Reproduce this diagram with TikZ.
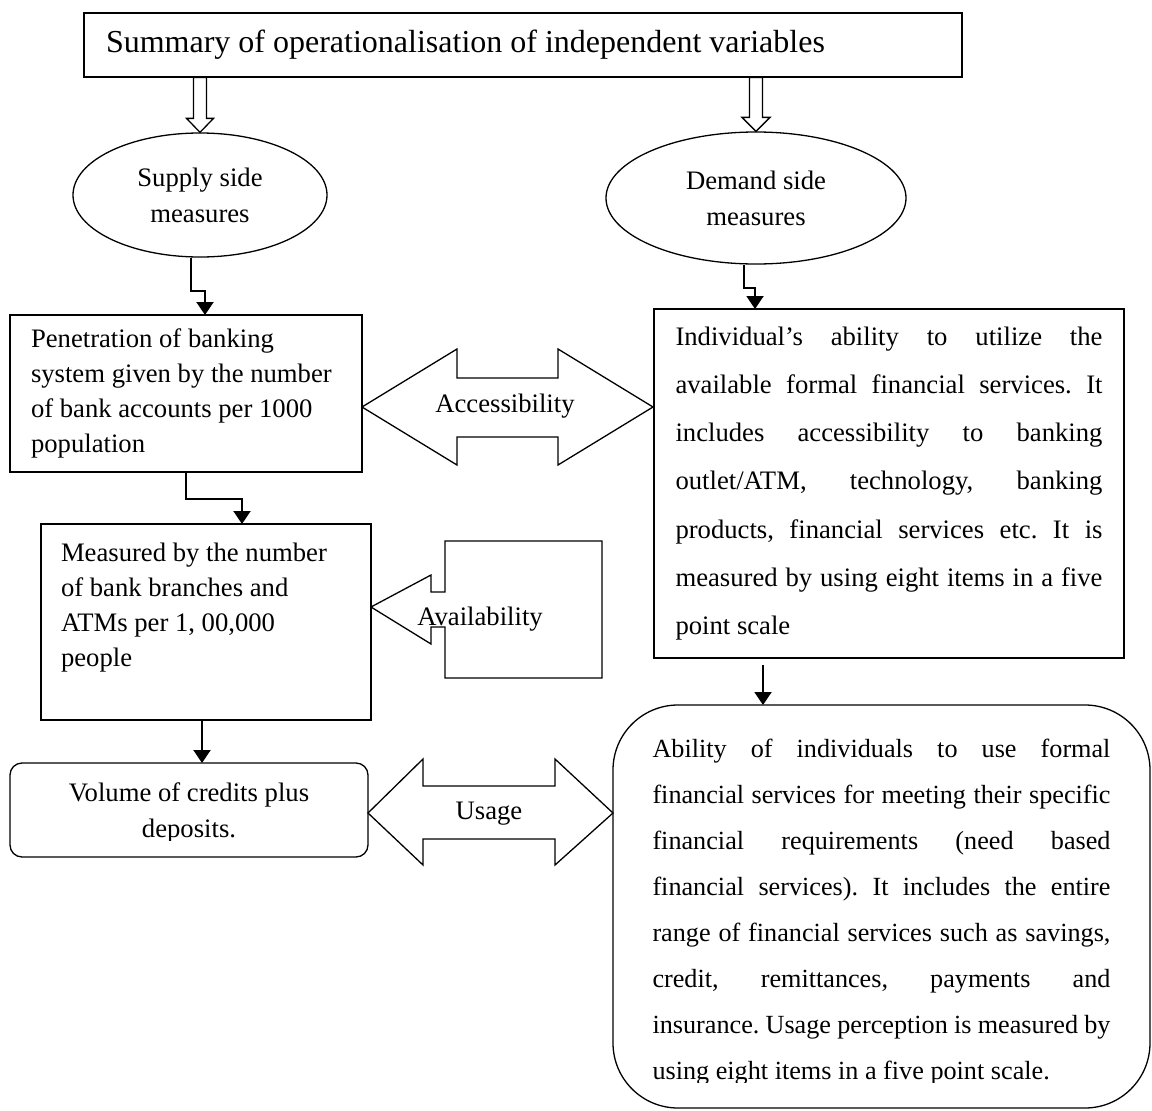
\documentclass[tikz,border=0pt]{standalone}
\usepackage{fontspec}
\setmainfont{Liberation Serif}
\usetikzlibrary{arrows.meta}
\usetikzlibrary{calc}
\usetikzlibrary{shapes.geometric}

\begin{document}
\begin{tikzpicture}[
    x=1pt, y=-1pt,
    box/.style={draw, line width=1.3pt, inner sep=0pt, outer sep=0pt},
    oval/.style={draw, ellipse, line width=1.3pt, inner sep=0pt, align=center,
      font={\fontsize{26.67}{36}\selectfont}},
    plain words/.style={execute at begin node={\spaceskip=0pt\xspaceskip=0pt\relax}},
    shape line/.style={draw, line width=1.3pt, fill=white, line join=miter},
    link/.style={line width=2pt, line join=miter, -{Triangle[length=13pt,width=17pt]}},
    label text/.style={font={\fontsize{26.67}{32}\selectfont}},
    every node/.style={color=black}
    ]
    \useasboundingbox (0,0) rectangle (1152,1111);

    % title
    \node[box, plain words, minimum width=878pt, minimum height=64pt, text width=834pt, align=left,
      font={\fontsize{32}{38}\selectfont}] (title) at (523,45)
      {Summary of operationalisation of independent variables};

    % supply and demand side
    \node[oval, minimum width=254pt, minimum height=124pt] (supply) at (200,195) {Supply side\\measures};
    \node[oval, minimum width=300pt, minimum height=132pt] (demand) at (756,198) {Demand side\\measures};

    % hollow arrows from the title
    \draw[shape line] (supply.north) -- ++(-13.5,-14) -- ++(7,0) -- ++(0,-41) -- ++(13,0) -- ++(0,41) -- ++(7,0) -- cycle;
    \draw[shape line] (demand.north) -- ++(-14,-14) -- ++(7.5,0) -- ++(0,-40) -- ++(13,0) -- ++(0,40) -- ++(7.5,0) -- cycle;

    % left column
    \node[box, plain words, anchor=north west, minimum width=352pt, minimum height=157pt, text width=310pt, align=left,
      font={\fontsize{26.67}{35}\selectfont}] (pen) at (10,315)
      {Penetration of banking\\system given by the number\\of bank accounts per 1000\\population};
    \node[box, plain words, anchor=north west, minimum width=330pt, minimum height=196pt, text width=290pt, align=left,
      font={\fontsize{26.67}{35}\selectfont}] (meas) at (41,524)
      {Measured by the number\\of bank branches and\\ATMs per 1, 00,000\\people\\\mbox{}};
    \node[box, rounded corners=12pt, anchor=north west, minimum width=358pt, minimum height=94pt] (vol) at (10,763) {};
    \begin{scope}
      \clip (0,0) rectangle (1152,840);
      \node[align=center, font={\fontsize{26.67}{36}\selectfont}] (voltext) at ([yshift=-3pt]vol.center)
        {Volume of credits plus\\deposits.};
    \end{scope}

    % right column
    \node[box, anchor=north west, minimum width=470pt, minimum height=349pt, text width=427pt, align=justify,
      font={\fontsize{26.67}{48.3}\selectfont\frenchspacing}] (indiv) at (654,309)
      {Individual’s ability to utilize the\linebreak
       available formal financial services. It\linebreak
       includes accessibility to banking\linebreak
       outlet/ATM, technology, banking\linebreak
       products, financial services etc. It is\linebreak
       measured by using eight items in a five\linebreak
       point scale};
    \node[box, rounded corners=65pt, anchor=north west, minimum width=537pt, minimum height=403pt] (usebox) at (613,705) {};
    \begin{scope}
      \clip (0,0) rectangle (1152,1082);
      \node[text width=458pt, align=justify, font={\fontsize{26.2}{46}\selectfont\frenchspacing}] (usetext)
        at ([yshift=-6pt]usebox.center)
        {Ability of individuals to use formal\linebreak
         financial services for meeting their specific\linebreak
         financial requirements (need based\linebreak
         financial services). It includes the entire\linebreak
         range of financial services such as savings,\linebreak
         credit, remittances, payments and\linebreak
         insurance. Usage perception is measured by\linebreak
         using eight items in a five point scale.};
    \end{scope}

    % connectors
    \draw[link] ([xshift=-9pt]supply.south) -- ++(0,33) -| ([xshift=19pt]pen.north);
    \draw[link] ([xshift=-12pt]demand.south) -- ++(0,23) -| ([xshift=-134pt]indiv.north);
    \draw[link] (pen.south) -- ++(0,27) -| ([xshift=36pt]meas.north);
    \draw[link] ([xshift=-4pt]meas.south) -- ([xshift=-4pt]meas.south |- vol.north);
    \draw[link] ([xshift=-126pt,yshift=-7pt]indiv.south) -- ([xshift=-126pt]indiv.south |- usebox.north);

    % accessibility
    \draw[shape line] (362,407) -- (457,349) -- (457,378) -- (558,378) -- (558,349) -- (653,407)
      -- (558,465) -- (558,437) -- (457,437) -- (457,465) -- cycle;
    \node[label text] (access) at (505,406) {Accessibility};

    % availability
    \draw[shape line] (371,607) -- (431,575) -- (431,592) -- (445,592) -- (445,541) -- (602,541)
      -- (602,678) -- (445,678) -- (445,627) -- (431,627) -- (431,644) -- cycle;
    \node[label text] (avail) at (480,619) {Availability};

    % usage
    \draw[shape line] (368,813) -- (423,759) -- (423,786) -- (555,786) -- (555,759) -- (613,813)
      -- (555,865) -- (555,839) -- (423,839) -- (423,865) -- cycle;
    \node[label text] (usage) at (489,814) {Usage};

\end{tikzpicture}
\end{document}
